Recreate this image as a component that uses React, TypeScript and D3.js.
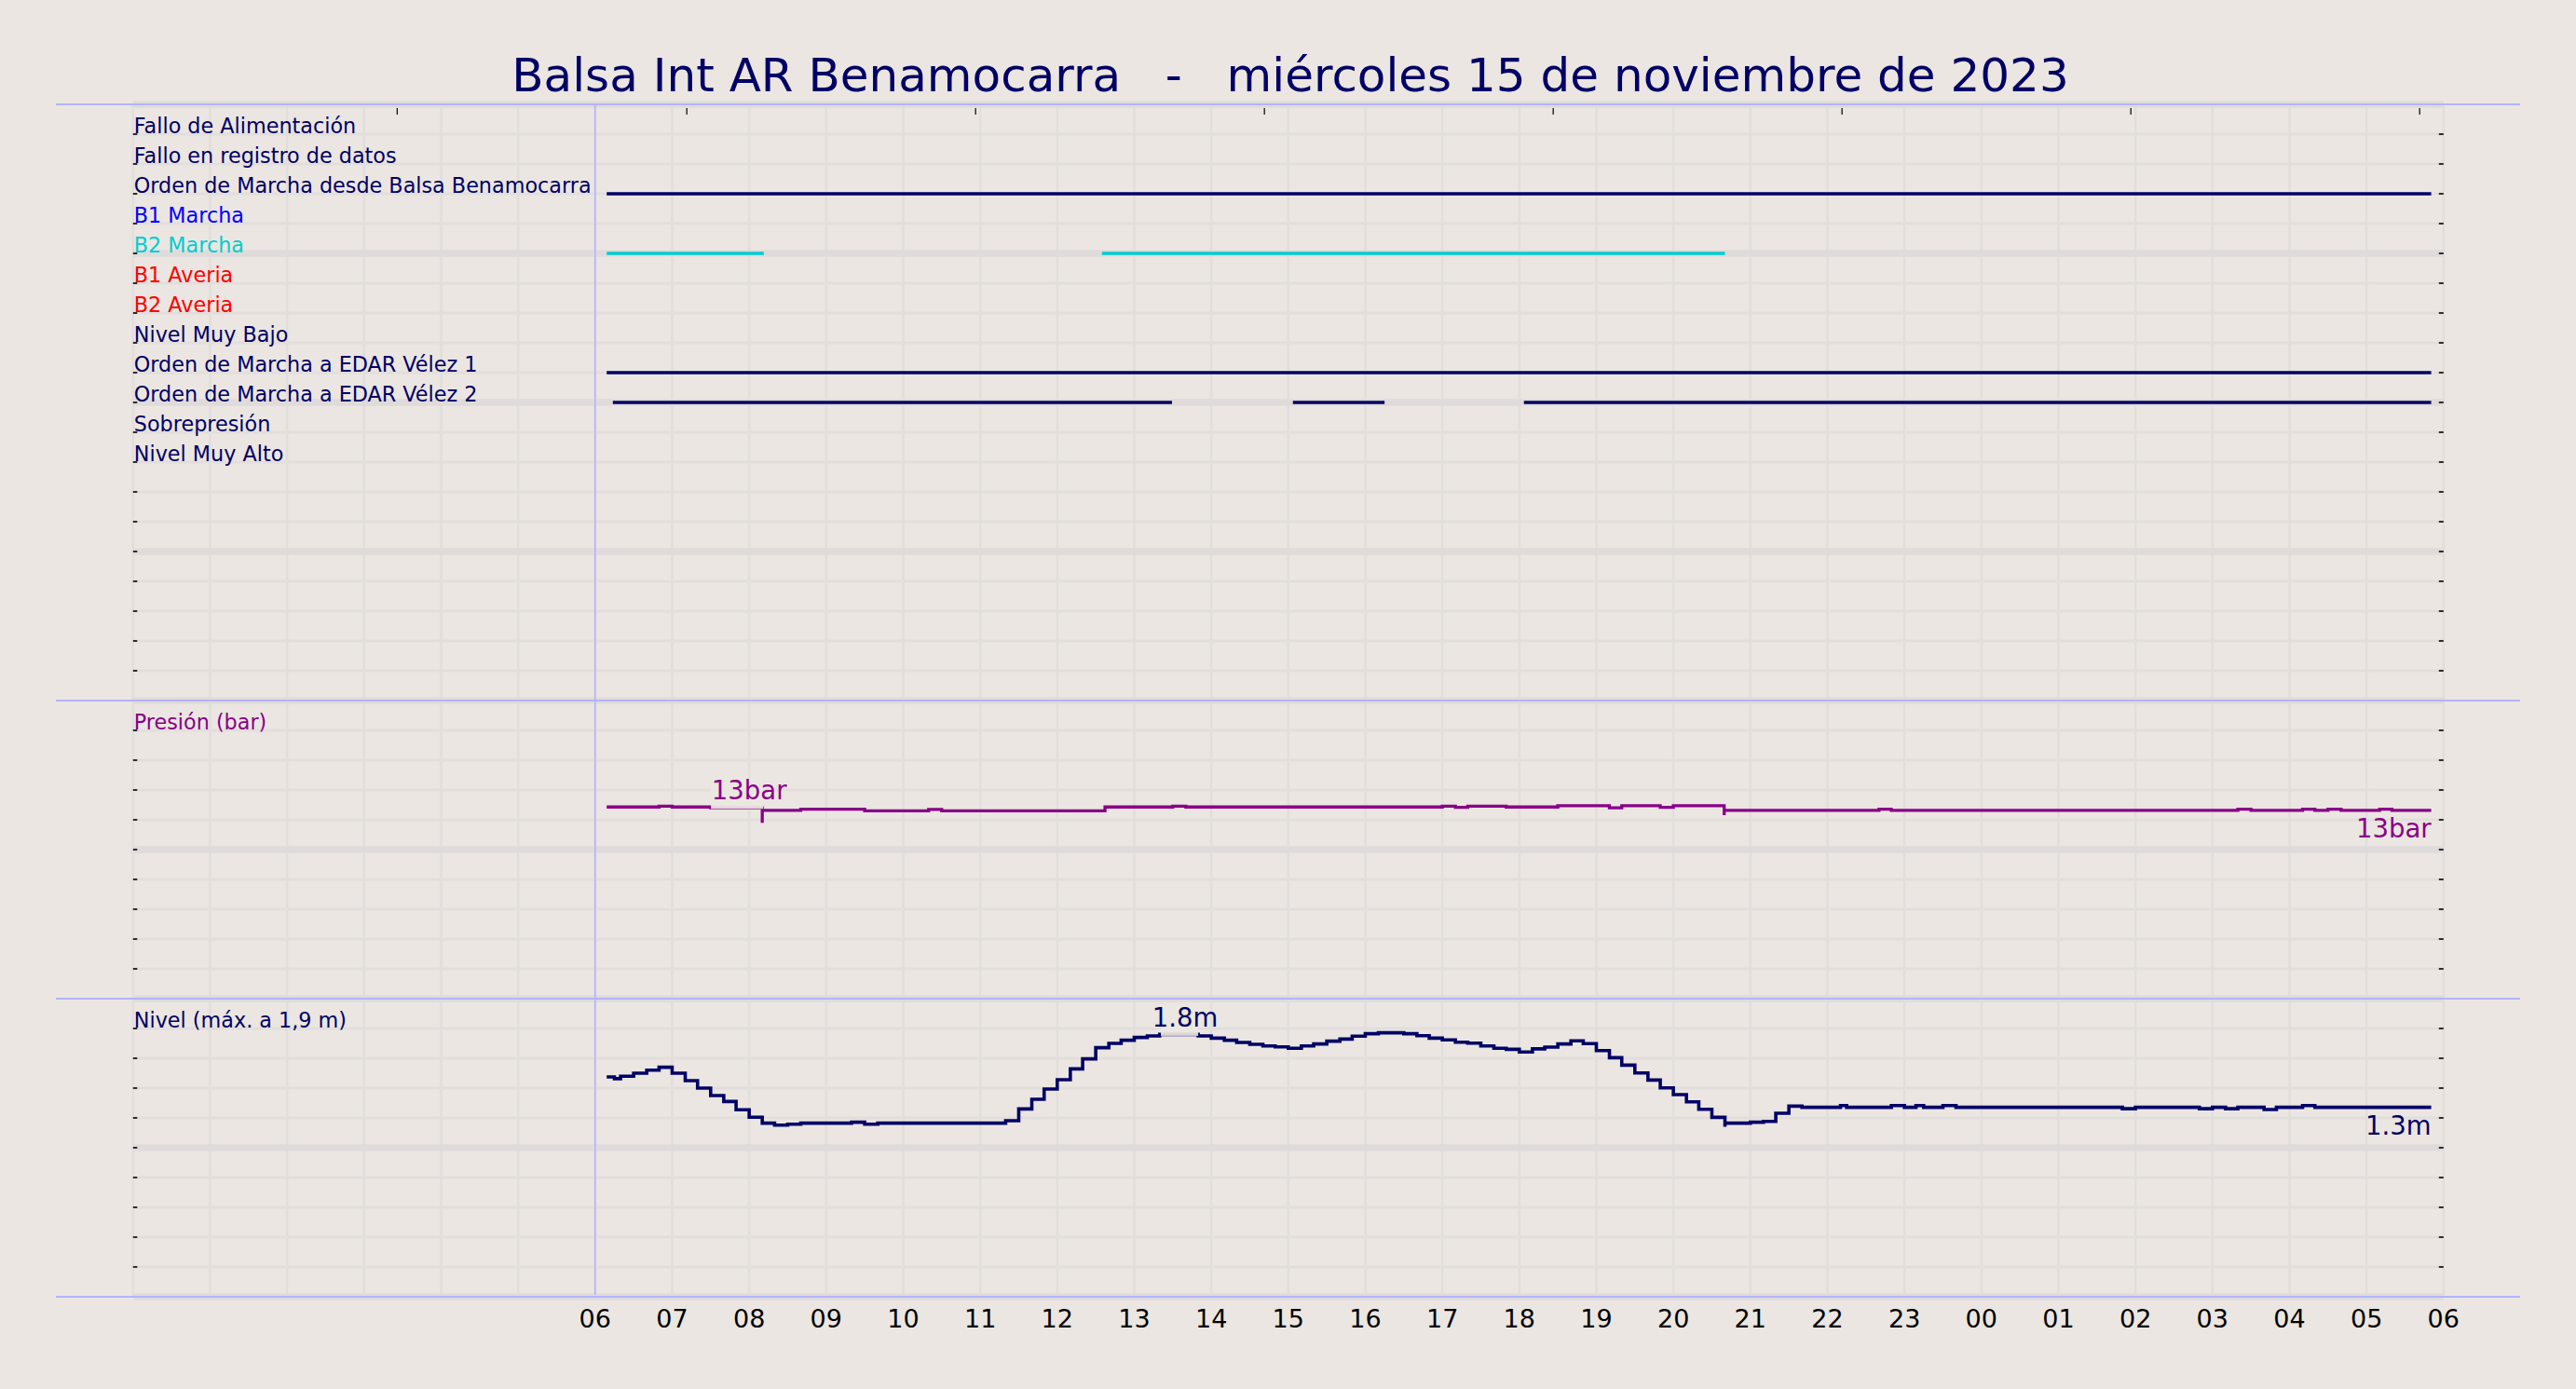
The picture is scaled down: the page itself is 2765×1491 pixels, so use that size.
import React from 'react';
import * as d3 from 'd3';

const W = 2765;
const H = 1491;
const BG = '#ebe6e1';
const GRID_MINOR = '#e2dedc';
const GRID_MAJOR = '#e0dbdb';
const SEP = '#b3b3ff';
const NAVY = '#000066';
const PURPLE = '#880088';
const CYAN = '#00cdd0';
const FONT = 'DejaVu Sans, Verdana, sans-serif';

const title = 'Balsa Int AR Benamocarra   -   miércoles 15 de noviembre de 2023';

// Status rows (row index 1..12 from the top)
const statusLabels = [
  'Fallo de Alimentación',
  'Fallo en registro de datos',
  'Orden de Marcha desde Balsa Benamocarra',
  'B1 Marcha',
  'B2 Marcha',
  'B1 Averia',
  'B2 Averia',
  'Nivel Muy Bajo',
  'Orden de Marcha a EDAR Vélez 1',
  'Orden de Marcha a EDAR Vélez 2',
  'Sobrepresión',
  'Nivel Muy Alto',
];
const statusColors = [NAVY, NAVY, NAVY, '#0000ff', CYAN, '#ff0000', '#ff0000', NAVY, NAVY, NAVY, NAVY, NAVY];
// "on" periods in hours since 00:00 of the 15th
const statusOn: [number, number][][] = [
  [],
  [],
  [[6.15, 29.84]],
  [],
  [[6.15, 8.19], [12.58, 20.67]],
  [],
  [],
  [],
  [[6.15, 29.84]],
  [[6.23, 13.49], [15.06, 16.25], [18.06, 29.84]],
  [],
  [],
];

// Pressure (bar), step series
const pressureHours = [6.15, 6.83, 7.0, 7.5, 8.17, 8.17, 8.67, 9.5, 10.33, 10.5, 12.62, 13.5, 13.67, 17.0, 17.17, 17.33, 17.83, 18.5, 19.17, 19.33, 19.83, 20.0, 20.66, 20.66, 22.67, 22.83, 27.33, 27.5, 28.17, 28.33, 28.5, 28.67, 29.17, 29.33, 29.84];
const pressureBar = [12.86, 12.92, 12.86, 12.8, 11.8, 12.63, 12.71, 12.6, 12.7, 12.6, 12.86, 12.92, 12.86, 12.92, 12.84, 12.92, 12.86, 12.94, 12.81, 12.94, 12.84, 12.94, 12.31, 12.63, 12.71, 12.63, 12.71, 12.63, 12.71, 12.63, 12.71, 12.63, 12.71, 12.63, 12.63];

// Level (m), step series
const levelHours = [
  6.15, 6.25, 6.33, 6.5, 6.67, 6.83, 7.0, 7.17, 7.33, 7.5, 7.67, 7.83, 8.0, 8.17, 8.33, 8.5, 8.67, 9.33, 9.5, 9.67,
  11.33, 11.5, 11.67, 11.83, 12.0, 12.17, 12.33, 12.5, 12.67, 12.83, 13.0, 13.17, 13.33, 13.83, 14.0, 14.17, 14.33, 14.5, 14.67, 14.83,
  15.0, 15.17, 15.33, 15.5, 15.67, 15.83, 16.0, 16.17, 16.5, 16.67, 16.83, 17.0, 17.17, 17.33, 17.5, 17.67, 17.83, 18.0, 18.17, 18.33,
  18.5, 18.67, 18.83, 19.0, 19.17, 19.33, 19.5, 19.67, 19.83, 20.0, 20.17, 20.33, 20.5, 20.67, 20.67, 21.0, 21.17, 21.33, 21.5, 21.67,
  22.17, 22.25, 22.83, 23.0, 23.15, 23.25, 23.5, 23.67, 25.83, 26.0, 26.83, 27.0, 27.17, 27.33, 27.67, 27.83, 28.17, 28.33, 29.84,
];
const levelM = [
  1.475, 1.463, 1.48, 1.5, 1.52, 1.54, 1.5, 1.45, 1.4, 1.35, 1.31, 1.255, 1.205, 1.165, 1.152, 1.158, 1.165, 1.171, 1.158, 1.165,
  1.181, 1.26, 1.325, 1.394, 1.456, 1.529, 1.596, 1.671, 1.7, 1.721, 1.74, 1.75, 1.76, 1.75, 1.735, 1.721, 1.706, 1.694, 1.683, 1.677,
  1.667, 1.683, 1.696, 1.715, 1.729, 1.748, 1.765, 1.771, 1.765, 1.752, 1.735, 1.723, 1.708, 1.702, 1.683, 1.667, 1.66, 1.642, 1.663, 1.675,
  1.696, 1.717, 1.698, 1.652, 1.604, 1.554, 1.502, 1.454, 1.402, 1.356, 1.308, 1.258, 1.204, 1.14, 1.165, 1.171, 1.177, 1.231, 1.279, 1.271,
  1.283, 1.271, 1.283, 1.271, 1.283, 1.271, 1.283, 1.271, 1.262, 1.271, 1.262, 1.271, 1.262, 1.271, 1.256, 1.271, 1.283, 1.271, 1.271,
];

const xTickHours = [6, 7, 8, 9, 10, 11, 12, 13, 14, 15, 16, 17, 18, 19, 20, 21, 22, 23, 24, 25, 26, 27, 28, 29, 30];
const xTickLabels = ['06', '07', '08', '09', '10', '11', '12', '13', '14', '15', '16', '17', '18', '19', '20', '21', '22', '23', '00', '01', '02', '03', '04', '05', '06'];
const topTickHours = [3.43, 7.19, 10.94, 14.69, 18.44, 22.19, 25.94, 29.69];

const pressureMaxLabel = { hour: 8.0, text: '13bar' };
const pressureLastLabel = '13bar';
const levelMaxLabel = { hour: 13.66, text: '1.8m' };
const levelLastLabel = '1.3m';

export default function App() {
  const x = d3.scaleLinear().domain([0, 30]).range([142.8, 2622.8]);
  const yRow = d3.scaleLinear().domain([0, 40]).range([112, 1392]);
  const yP = d3.scaleLinear().domain([0, 20]).range([yRow(30), yRow(20)]);
  const yL = d3.scaleLinear().domain([0, 2]).range([yRow(40), yRow(30)]);

  const rows = d3.range(0, 41);
  const hours = d3.range(0, 31);

  const pLine = d3
    .line<number>()
    .x((_, i) => x(pressureHours[i]))
    .y((d) => yP(d))
    .curve(d3.curveStepAfter)(pressureBar) as string;

  const lLine = d3
    .line<number>()
    .x((_, i) => x(levelHours[i]))
    .y((d) => yL(d))
    .curve(d3.curveStepAfter)(levelM) as string;

  const x0 = x(0);
  const x30 = x(30);
  const lastH = pressureHours[pressureHours.length - 1];
  const pLast = pressureBar[pressureBar.length - 1];
  const lLast = levelM[levelM.length - 1];
  const pMaxY = yP(12.8);
  const lMaxY = yL(1.76);

  return (
    <svg
      width={W}
      height={H}
      viewBox={`0 0 ${W} ${H}`}
      style={{ position: 'absolute', left: 0, top: 0, display: 'block' }}
    >
      <rect x={0} y={0} width={W} height={H} fill={BG} />

      {/* vertical hour grid */}
      {hours.map((h) => (
        <line key={`vg${h}`} x1={x(h)} x2={x(h)} y1={yRow(0)} y2={yRow(40)} stroke={GRID_MINOR} strokeWidth={2.6} />
      ))}
      {/* horizontal grid */}
      {rows.map((r) => (
        <line
          key={`hg${r}`}
          x1={x0}
          x2={x30}
          y1={yRow(r)}
          y2={yRow(r)}
          stroke={r % 5 === 0 ? GRID_MAJOR : GRID_MINOR}
          strokeWidth={r % 5 === 0 ? 7.5 : 3}
        />
      ))}

      {/* left / right ticks */}
      {rows.map((r) => (
        <g key={`tk${r}`}>
          <line x1={x0} x2={x0 + 4.5} y1={yRow(r)} y2={yRow(r)} stroke="#000" strokeWidth={1.6} />
          <line x1={x30 - 5} x2={x30} y1={yRow(r)} y2={yRow(r)} stroke="#000" strokeWidth={1.6} />
        </g>
      ))}
      {/* top ticks */}
      {topTickHours.map((h) => (
        <line key={`tt${h}`} x1={x(h)} x2={x(h)} y1={116} y2={123} stroke="#000" strokeWidth={1.2} />
      ))}

      {/* separators */}
      {[0, 20, 30, 40].map((r) => (
        <line key={`sep${r}`} x1={60} x2={2705} y1={yRow(r)} y2={yRow(r)} stroke={SEP} strokeWidth={1.8} />
      ))}
      <line x1={x(6)} x2={x(6)} y1={yRow(0)} y2={yRow(40) - 2} stroke={SEP} strokeWidth={1.6} />

      {/* status rows */}
      {statusLabels.map((lab, i) => (
        <text
          key={`sl${i}`}
          x={x0 + 1}
          y={yRow(i + 1) - 1.5}
          fontFamily={FONT}
          fontSize={22.3}
          fill={statusColors[i]}
        >
          {lab}
        </text>
      ))}
      {statusOn.map((segs, i) =>
        segs.map(([a, b], j) => (
          <line
            key={`ss${i}_${j}`}
            x1={x(a)}
            x2={x(b)}
            y1={yRow(i + 1)}
            y2={yRow(i + 1)}
            stroke={statusColors[i]}
            strokeWidth={3.3}
          />
        ))
      )}

      {/* pressure panel */}
      <text x={x0 + 1} y={yRow(21) - 1.5} fontFamily={FONT} fontSize={22.3} fill={PURPLE}>
        Presión (bar)
      </text>
      <path d={pLine} fill="none" stroke={PURPLE} strokeWidth={3.3} />
      <rect x={x(pressureMaxLabel.hour) - 41} y={pMaxY - 32} width={56} height={33} fill={BG} opacity={0.93} />
      <text
        x={x(pressureMaxLabel.hour)}
        y={pMaxY - 9}
        textAnchor="middle"
        fontFamily={FONT}
        fontSize={27.5}
        fill={PURPLE}
      >
        {pressureMaxLabel.text}
      </text>
      <text
        x={x(lastH)}
        y={yP(pLast) + 29}
        textAnchor="end"
        fontFamily={FONT}
        fontSize={27.5}
        fill={PURPLE}
      >
        {pressureLastLabel}
      </text>

      {/* level panel */}
      <text x={x0 + 1} y={yRow(31) - 1.5} fontFamily={FONT} fontSize={22.3} fill={NAVY}>
        Nivel (máx. a 1,9 m)
      </text>
      <path d={lLine} fill="none" stroke={NAVY} strokeWidth={3.6} />
      <rect x={x(levelMaxLabel.hour) - 26} y={lMaxY - 32} width={40} height={33.5} fill={BG} opacity={0.93} />
      <text
        x={x(levelMaxLabel.hour)}
        y={lMaxY - 8.5}
        textAnchor="middle"
        fontFamily={FONT}
        fontSize={27.5}
        fill={NAVY}
      >
        {levelMaxLabel.text}
      </text>
      <text
        x={x(lastH)}
        y={yL(lLast) + 29}
        textAnchor="end"
        fontFamily={FONT}
        fontSize={27.5}
        fill={NAVY}
      >
        {levelLastLabel}
      </text>

      {/* x axis labels */}
      {xTickHours.map((h, i) => (
        <text
          key={`xl${i}`}
          x={x(h)}
          y={1425}
          textAnchor="middle"
          fontFamily={FONT}
          fontSize={27}
          fill="#000"
        >
          {xTickLabels[i]}
        </text>
      ))}

      {/* title */}
      <text
        x={1385}
        y={98}
        textAnchor="middle"
        fontFamily={FONT}
        fontSize={50}
        fill={NAVY}
        xmlSpace="preserve"
        style={{ whiteSpace: 'pre' }}
      >
        {title}
      </text>
    </svg>
  );
}
